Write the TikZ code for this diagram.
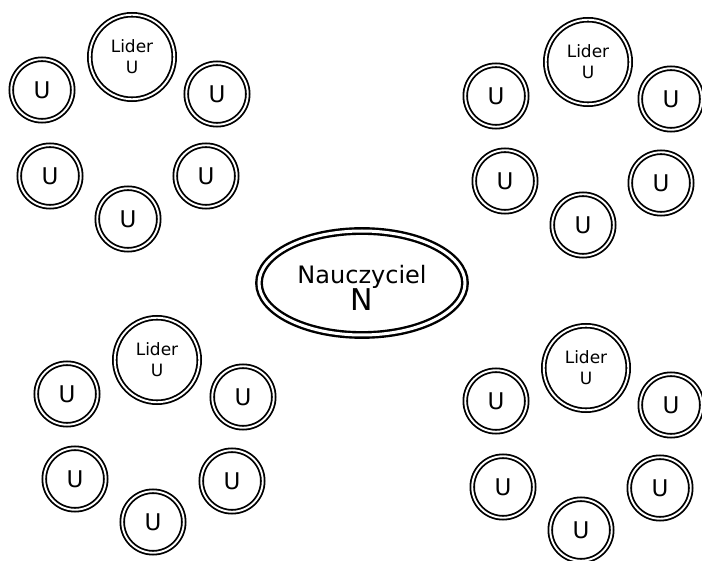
\documentclass[tikz,border=0pt]{standalone}
\usepackage{fontspec}
\setmainfont{DejaVu Sans}
\usetikzlibrary{shapes.geometric}
\tikzset{
  dbl/.style={draw=black, double=white, line width=1.8pt, double distance=1.9pt, inner sep=0pt},
  ucirc/.style={dbl, circle, minimum size=61.5pt, font=\fontsize{23}{26}\selectfont},
  lider/.style={dbl, circle, minimum size=84.5pt, align=center, font=\fontsize{17}{21}\selectfont},
  teacher/.style={draw=black, double=white, ellipse, line width=2.4pt, double distance=3pt, inner sep=0pt, minimum width=206pt, minimum height=104pt},
  tlabel/.style={align=center, inner sep=0pt}
}
\begin{document}
\begin{tikzpicture}[x=1pt,y=-1pt]
\useasboundingbox[fill=white] (0,0) rectangle (702,561);
% group 1 (top-left)
\node[lider] (l1) at (132,57) {Lider\\U};
\node[ucirc] (a1) at (42,90) {U};
\node[ucirc] (b1) at (217,94) {U};
\node[ucirc] (c1) at (50,176) {U};
\node[ucirc] (d1) at (206,176) {U};
\node[ucirc] (e1) at (128,219) {U};
% group 2 (top-right)
\node[lider] (l2) at (588,62) {Lider\\U};
\node[ucirc] (a2) at (496,96) {U};
\node[ucirc] (b2) at (671,99) {U};
\node[ucirc] (c2) at (505,181) {U};
\node[ucirc] (d2) at (661,183) {U};
\node[ucirc] (e2) at (583,225) {U};
% group 3 (bottom-left)
\node[lider] (l3) at (157,360) {Lider\\U};
\node[ucirc] (a3) at (67,394) {U};
\node[ucirc] (b3) at (243,397) {U};
\node[ucirc] (c3) at (75,479) {U};
\node[ucirc] (d3) at (232,481) {U};
\node[ucirc] (e3) at (153,522) {U};
% group 4 (bottom-right)
\node[lider] (l4) at (586,368) {Lider\\U};
\node[ucirc] (a4) at (496,401) {U};
\node[ucirc] (b4) at (671,405) {U};
\node[ucirc] (c4) at (503,487) {U};
\node[ucirc] (d4) at (660,488) {U};
\node[ucirc] (e4) at (581,530) {U};
% teacher
\node[teacher] (n) at (362,283) {};
\node[tlabel] (nt) at (362,288) {{\fontsize{24}{30}\selectfont Nauczyciel}\\[-1pt]{\fontsize{30}{32}\selectfont N}};
\end{tikzpicture}
\end{document}
